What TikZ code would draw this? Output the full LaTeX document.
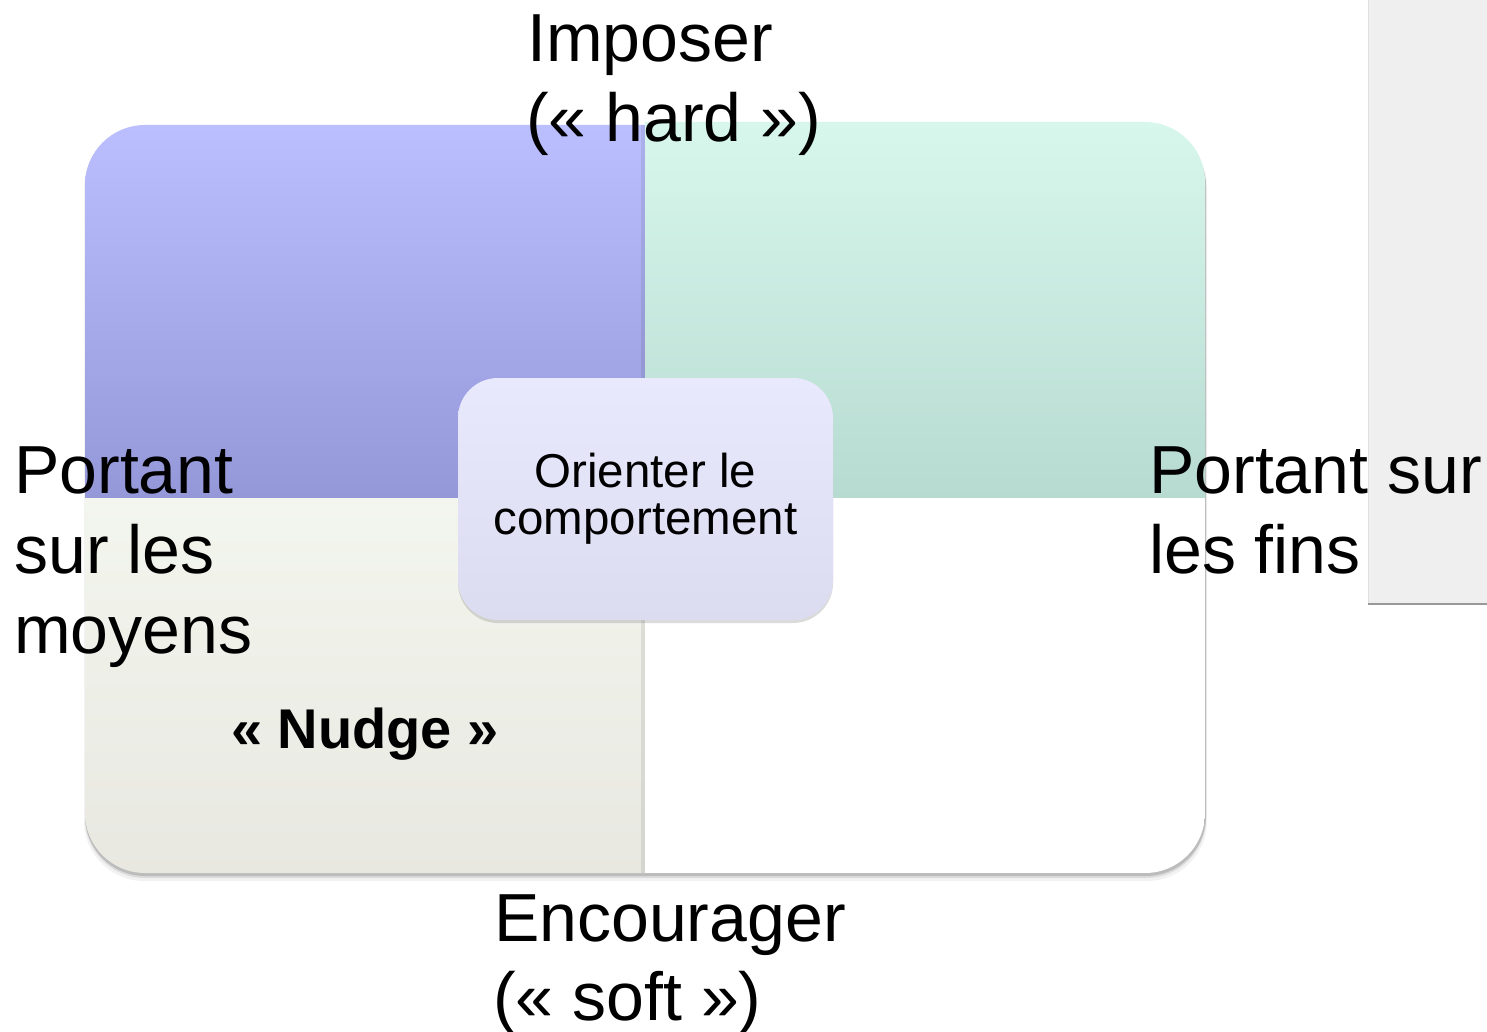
\documentclass[tikz,border=0pt]{standalone}
\usepackage{fontspec}
\setmainfont{Liberation Sans}
\usetikzlibrary{shadows}
\definecolor{tlTop}{HTML}{BBBFFF}
\definecolor{tlBot}{HTML}{9498D8}
\definecolor{trTop}{HTML}{D8F7EC}
\definecolor{trBot}{HTML}{B7DBD1}
\definecolor{blTop}{HTML}{F3F6EE}
\definecolor{blBot}{HTML}{E8E8E1}
\definecolor{cTop}{HTML}{E9E9FD}
\definecolor{cBot}{HTML}{DCDCF0}
\definecolor{panelfill}{HTML}{EFEFEF}
\begin{document}
\begin{tikzpicture}[x=1pt,y=-1pt,
  bigtext/.style={font=\fontsize{68}{80}\selectfont, inner sep=0pt, anchor=base west},
  nudgetext/.style={font=\fontsize{56}{66}\bfseries\selectfont, inner sep=0pt, anchor=base},
  centerbox/.style={rounded corners=40, minimum width=375, minimum height=242,
    top color=cTop, bottom color=cBot, inner sep=0pt,
    font=\fontsize{47.5}{47}\selectfont, align=center,
    drop shadow={shadow xshift=0pt, shadow yshift=-3pt, opacity=0.28}},
  quadshadow/.style={black, rounded corners=60}]
\useasboundingbox (0,0) rectangle (1487,1032);
\fill[white] (0,0) rectangle (1487,1032);
% side panel
\fill[panelfill] (1368,0) rectangle (1487,604);
\draw[black!12] (1368,0) -- (1368,604);
\draw[black!40, line width=2] (1368,604) -- (1487,604);
% shadow of the matrix
\fill[quadshadow, opacity=0.05] (84,128) rectangle (1207,881);
\fill[quadshadow, opacity=0.09] (85,127) rectangle (1206,878);
\fill[quadshadow, opacity=0.14] (85,126) rectangle (1206,876);
% top-left quadrant
\begin{scope}
  \clip[rounded corners=60] (85,125) rectangle (800,700);
  \shade[top color=tlTop, bottom color=tlBot] (85,125) rectangle (645,498);
\end{scope}
% top-right quadrant
\begin{scope}
  \clip[rounded corners=60] (500,122) rectangle (1205,700);
  \shade[top color=trTop, bottom color=trBot] (645,122) rectangle (1205,498);
\end{scope}
% bottom-left quadrant
\begin{scope}
  \clip[rounded corners=60] (85,300) rectangle (800,873);
  \shade[top color=blTop, bottom color=blBot] (85,498) rectangle (645,873);
\end{scope}
% bottom-right quadrant
\begin{scope}
  \clip[rounded corners=60] (500,300) rectangle (1205,873);
  \fill[white] (645,498) rectangle (1205,873);
\end{scope}
% divider shadows
\fill[black, opacity=0.08] (641,125) rectangle (645,498);
\fill[black, opacity=0.08] (641,498) rectangle (645,873);
% centre
\node[centerbox] (centre) at (645.5,499) {Orienter le\\comportement};
% labels
\node[bigtext] (imposer1) at (527,62) {Imposer};
\node[bigtext] (imposer2) at (526,142) {(« hard »)};
\node[bigtext] (gauche1) at (14,493) {Portant};
\node[bigtext] (gauche2) at (14,573) {sur les};
\node[bigtext] (gauche3) at (14,653) {moyens};
\node[bigtext] (droite1) at (1149,493) {Portant sur};
\node[bigtext] (droite2) at (1149,573) {les fins};
\node[bigtext] (encourager1) at (494,941) {Encourager};
\node[bigtext] (encourager2) at (493,1020) {(« soft »)};
\node[nudgetext] (nudge) at (365,748) {« Nudge »};
\end{tikzpicture}
\end{document}
